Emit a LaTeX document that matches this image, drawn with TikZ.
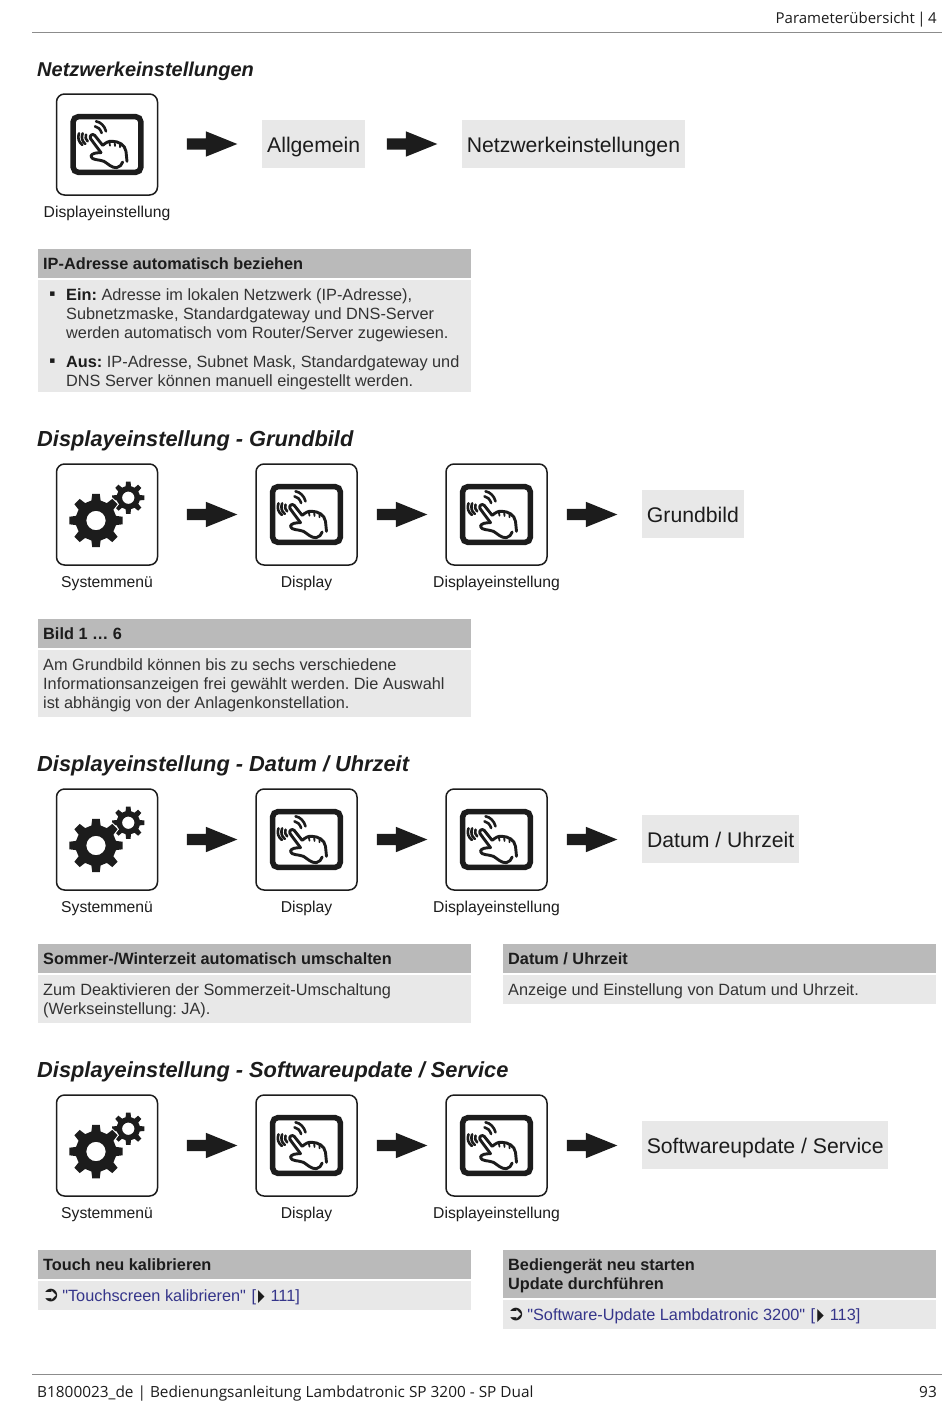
\documentclass[tikz,border=0pt]{standalone}
\usepackage{fontspec}
\setmainfont{Liberation Sans}
\newfontfamily\uifont{Open Sans}
\newfontfamily\symfont{DejaVu Sans}
\usetikzlibrary{shapes.arrows}
\frenchspacing
\definecolor{headgrey}{HTML}{BABABA}
\definecolor{bodygrey}{HTML}{E8E8E8}
\definecolor{ink}{HTML}{1C1C1C}
\definecolor{soft}{HTML}{333333}
\definecolor{linkblue}{HTML}{35358A}
\definecolor{rulegrey}{HTML}{8C8C8C}
\newcommand{\gearglyph}[6]{% cx cy router rroot hole (halo)
  \fill[#6,even odd rule] ({#1+cos(77)*#4},{#2-sin(77)*#4})
    \foreach \ga in {90,135,...,405} {
      -- ({#1+cos(\ga-13)*#4},{#2-sin(\ga-13)*#4})
      -- ({#1+cos(\ga-8)*#3},{#2-sin(\ga-8)*#3})
      -- ({#1+cos(\ga+8)*#3},{#2-sin(\ga+8)*#3})
      -- ({#1+cos(\ga+13)*#4},{#2-sin(\ga+13)*#4})
    } -- cycle ({#1+#5},{#2}) arc[start angle=0,end angle=360,radius=#5];
}
\tikzset{
  x=1pt,y=-1pt,
  iconbox/.style={draw=ink,line width=1.5pt,rounded corners=8pt,minimum width=101pt,minimum height=101pt,inner sep=0pt,fill=white},
  iconlabel/.style={anchor=base,inner sep=0pt,font=\fontsize{15.7}{19}\selectfont,text=ink},
  flowarrow/.style={single arrow,fill=ink,draw=none,inner sep=5.5pt,minimum height=50.5pt,minimum width=25pt,single arrow head extend=7pt,single arrow tip angle=44,shape border rotate=0,xshift=-7pt},
  crumb/.style={fill=bodygrey,inner sep=0pt,anchor=west,minimum height=48pt,text height=20pt,text depth=4pt,font=\fontsize{21.2}{26}\selectfont,text=ink},
  sectiontitle/.style={anchor=base west,inner sep=0pt,font=\fontsize{21.8}{26}\selectfont\bfseries\itshape,text=ink},
  headband/.style={fill=headgrey,inner sep=0pt,anchor=north west,draw=none},
  bodyband/.style={fill=bodygrey,inner sep=0pt,anchor=north west,draw=none},
  headtext/.style={anchor=north west,inner sep=0pt,align=left,font=\fontsize{16.3}{19}\selectfont\bfseries,text=ink},
  bodytext/.style={anchor=north west,inner sep=0pt,align=left,font=\fontsize{16.3}{18.8}\selectfont,text=soft},
  linktext/.style={anchor=north west,inner sep=0pt,align=left,font=\fontsize{16.3}{19}\selectfont,text=linkblue},
  pagetext/.style={inner sep=0pt,font=\uifont\fontsize{15.36}{19}\selectfont,text=ink},
  touchglyph/.pic={
    \draw[ink,line width=5.5pt,rounded corners=5pt] (-33.8,-27.8) rectangle (33.8,27.8);
    \begin{scope}[x=.3333pt,y=-.3333pt,shift={(-111,-97.5)},ink,line cap=round,line join=round,line width=2.6pt]
      \draw (27,64) .. controls (22,78) and (26,90) .. (37,99);
      \draw (38,64) .. controls (33,76) and (36,88) .. (46,96);
      \draw (48,68) .. controls (45,76) and (47,82) .. (53,88);
      \draw (78,28) .. controls (92,30) and (104,42) .. (108,58);
      \draw (75,43) .. controls (84,44) and (91,52) .. (95,63);
      \draw[line width=2.9pt] (93,122) -- (61,79) .. controls (58,70) and (68,64) .. (74,70) -- (98,100)
        .. controls (108,92) and (116,86) .. (128,88) .. controls (145,88) and (165,98) .. (168,118) -- (171,148);
      \draw[line width=1.8pt] (118,90) -- (120,101) (134,90) -- (135,102) (150,95) -- (150,106);
      \draw[line width=2.9pt] (93,122) .. controls (78,122) and (64,124) .. (63,133)
        .. controls (64,145) and (88,142) .. (102,148) .. controls (115,156) and (125,168) .. (140,167) .. controls (150,166) and (155,158) .. (158,150);
    \end{scope}
  },
  gearglyph/.pic={
    \gearglyph{21.3}{-16.8}{16.3}{11.8}{6.2}{ink}
    \gearglyph{-11}{6}{27}{20.5}{9.7}{ink,preaction={draw=white,line width=2.2pt}}
  },
}
\newcommand{\iconlabelled}[6]{% name x y kind text
  \node[iconbox] (#1) at (#2,#3) {};
  \pic (#1g) at (#1) {#4};
  \node[iconlabel] (#1t) at (#2,{#3+72.5}) {#5};
}
\newcommand{\threestep}[2]{% prefix y
  \iconlabelled{#1a}{107}{#2}{gearglyph}{Systemmenü}{}
  \node[flowarrow] (#1ar1) at (212,#2) {};
  \iconlabelled{#1b}{306.5}{#2}{touchglyph}{Display}{}
  \node[flowarrow] (#1ar2) at (402,#2) {};
  \iconlabelled{#1c}{496.5}{#2}{touchglyph}{Displayeinstellung}{}
  \node[flowarrow] (#1ar3) at (592,#2) {};
}
\newcommand{\band}[6]{% name style x y w h
  \node[#2,minimum width=#5pt,minimum height=#6pt] (#1) at (#3,#4) {};
}
\newcommand{\tri}{\scalebox{.52}[1.05]{\symfont\color{ink}▶}}
\newcommand{\goarrow}{\smash{\raisebox{0pt}{\symfont\fontsize{21}{19}\selectfont\color{ink}➲}}\hspace{2.5pt}}
\newcommand{\seepage}[1]{\hspace{1pt} [\hspace{2pt}\tri\hspace{6pt}#1]}
\begin{document}
\begin{tikzpicture}
\useasboundingbox[fill=white] (0,0) rectangle (950,1401);
% page furniture
\coordinate (tl) at (32,32.5); \coordinate (tr) at (942,32.5);
\coordinate (bl) at (32,1374.5); \coordinate (br) at (942,1374.5);
\draw[rulegrey,line width=1pt] (tl) -- (tr);
\draw[rulegrey,line width=1pt] (bl) -- (br);
\node[pagetext,anchor=base east,font=\uifont\fontsize{15}{19}\selectfont] (pageh) at (937,23) {Parameterübersicht\,|\,4};
\node[pagetext,anchor=base west] (pagef) at (37,1397) {B1800023\_de | Bedienungsanleitung Lambdatronic SP 3200 - SP Dual};
\node[pagetext,anchor=base east] (pagen) at (937,1397) {93};

% section 1
\node[sectiontitle,font=\fontsize{20}{24}\selectfont\bfseries\itshape] (s1) at (37,76) {Netzwerkeinstellungen};
\iconlabelled{n}{107}{144.5}{touchglyph}{Displayeinstellung}{}
\node[flowarrow] (nar1) at (212,144) {};
\node[crumb,minimum width=103pt] (c1) at (262,144) {Allgemein};
\node[flowarrow] (nar2) at (412,144) {};
\node[crumb,minimum width=222.5pt] (c2) at (462,144) {Netzwerkeinstellungen};
\band{h1}{headband}{38}{249}{432.5}{29}
\band{b1}{bodyband}{38}{280}{432.5}{112}
\node[headtext] (h1t) at (43,257.5) {IP-Adresse automatisch beziehen};
\node[inner sep=0pt,font=\symfont\fontsize{9}{10}\selectfont,text=ink] (d1) at (52.5,294) {▪};
\node[bodytext] (b1a) at (66,288.5) {\textcolor{ink}{\textbf{Ein:}} Adresse im lokalen Netzwerk (IP-Adresse),\\Subnetzmaske, Standardgateway und DNS-Server\\werden automatisch vom Router/Server zugewiesen.};
\node[inner sep=0pt,font=\symfont\fontsize{9}{10}\selectfont,text=ink] (d2) at (52.5,361) {▪};
\node[bodytext] (b1b) at (66,355.5) {\textcolor{ink}{\textbf{Aus:}} IP-Adresse, Subnet Mask, Standardgateway und\\DNS Server können manuell eingestellt werden.};

% section 2
\node[sectiontitle] (s2) at (37,446) {Displayeinstellung - Grundbild};
\threestep{g}{514.5}
\node[crumb,minimum width=101.5pt] (c3) at (642,514) {Grundbild};
\band{h2}{headband}{38}{619}{432.5}{29}
\band{b2}{bodyband}{38}{650}{432.5}{66.5}
\node[headtext] (h2t) at (43,627.5) {Bild 1 … 6};
\node[bodytext] (b2t) at (43,658.5) {Am Grundbild können bis zu sechs verschiedene\\Informationsanzeigen frei gewählt werden. Die Auswahl\\ist abhängig von der Anlagenkonstellation.};

% section 3
\node[sectiontitle] (s3) at (37,771) {Displayeinstellung - Datum / Uhrzeit};
\threestep{d}{839.5}
\node[crumb,minimum width=157pt] (c4) at (642,839) {Datum / Uhrzeit};
\band{h3}{headband}{38}{944}{432.5}{29}
\band{b3}{bodyband}{38}{975}{432.5}{48}
\node[headtext] (h3t) at (43,952.5) {Sommer-/Winterzeit automatisch umschalten};
\node[bodytext] (b3t) at (43,983.5) {Zum Deaktivieren der Sommerzeit-Umschaltung\\(Werkseinstellung: JA).};
\band{h4}{headband}{503}{944}{433}{29}
\band{b4}{bodyband}{503}{975}{433}{29}
\node[headtext] (h4t) at (508,952.5) {Datum / Uhrzeit};
\node[bodytext] (b4t) at (508,983.5) {Anzeige und Einstellung von Datum und Uhrzeit.};

% section 4
\node[sectiontitle] (s4) at (37,1077) {Displayeinstellung - Softwareupdate / Service};
\threestep{u}{1145.5}
\node[crumb,minimum width=246pt] (c5) at (642,1145) {Softwareupdate / Service};
\band{h5}{headband}{38}{1250}{432.5}{29}
\band{b5}{bodyband}{38}{1281}{432.5}{29}
\node[headtext] (h5t) at (43,1258.5) {Touch neu kalibrieren};
\node[linktext] (b5t) at (42,1289.5) {\goarrow\textquotedbl Touchscreen kalibrieren\textquotedbl\seepage{111}};
\band{h6}{headband}{503}{1250}{433}{48}
\band{b6}{bodyband}{503}{1300}{433}{29}
\node[headtext] (h6t) at (508,1258.5) {Bediengerät neu starten\\Update durchführen};
\node[linktext] (b6t) at (507,1308.5) {\goarrow\textquotedbl Software-Update Lambdatronic 3200\textquotedbl\seepage{113}};
\end{tikzpicture}
\end{document}
